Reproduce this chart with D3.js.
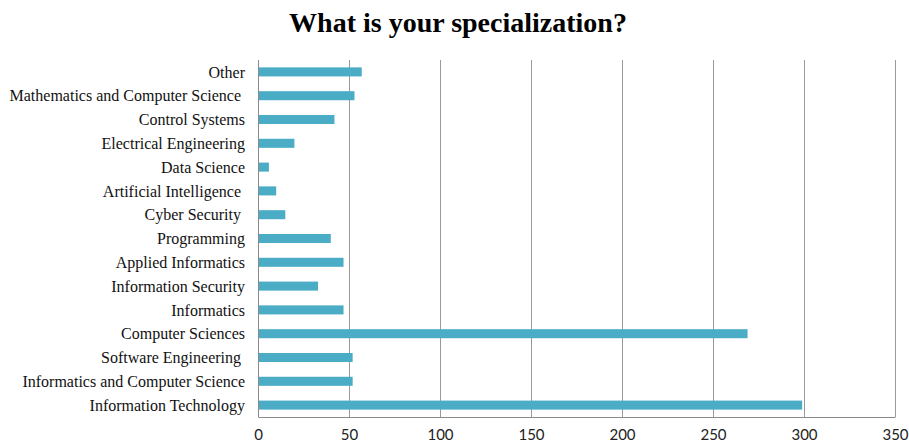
<!DOCTYPE html>
<html>
<head>
<meta charset="utf-8">
<script src="https://cdn.jsdelivr.net/npm/d3@7"></script>
<style>
  body { margin: 0; background: #fff; }
  svg { display: block; }
</style>
</head>
<body>
<svg id="chart"></svg>
<script>
var width = 909,
    height = 445;

// categories top to bottom
var categories = [
  "Other",
  "Mathematics and Computer Science ",
  "Control Systems",
  "Electrical Engineering",
  "Data Science",
  "Artificial Intelligence ",
  "Cyber Security ",
  "Programming",
  "Applied Informatics",
  "Information Security",
  "Informatics",
  "Computer Sciences",
  "Software Engineering ",
  "Informatics and Computer Science",
  "Information Technology"
];
var counts = [57, 53, 42, 20, 6, 10, 15, 40, 47, 33, 47, 269, 52, 52, 299];
var xTicks = [0, 50, 100, 150, 200, 250, 300, 350];

var margin = {top: 60, right: 14, bottom: 28, left: 258};

var svg = d3.select("#chart")
  .attr("width", width)
  .attr("height", height);

svg.append("text")
  .attr("x", 458)
  .attr("y", 32)
  .attr("text-anchor", "middle")
  .style("font-family", "'Liberation Serif', 'Times New Roman', serif")
  .style("font-weight", "bold")
  .style("font-size", "28px")
  .text("What is your specialization?");

var x = d3.scaleLinear()
  .domain([0, 350])
  .range([margin.left, width - margin.right]);

var y = d3.scaleBand()
  .domain(categories)
  .range([margin.top, height - margin.bottom])
  .paddingInner(0.62)
  .paddingOuter(0.31);

var g = svg.append("g");

// vertical gridlines
g.selectAll("line.grid")
  .data(xTicks.slice(1))
  .enter().append("line")
  .attr("class", "grid")
  .attr("x1", function(d) { return x(d) + 0.5; })
  .attr("x2", function(d) { return x(d) + 0.5; })
  .attr("y1", margin.top)
  .attr("y2", height - margin.bottom)
  .attr("stroke", "#9a9a9a")
  .attr("stroke-width", 1);

// bars
g.selectAll("rect.bar")
  .data(counts)
  .enter().append("rect")
  .attr("class", "bar")
  .attr("x", x(0))
  .attr("y", function(d, i) { return y(categories[i]); })
  .attr("width", function(d) { return x(d) - x(0); })
  .attr("height", y.bandwidth())
  .attr("fill", "#4bacc6");

// category labels
g.selectAll("text.cat")
  .data(categories)
  .enter().append("text")
  .attr("class", "cat")
  .attr("x", margin.left - 13)
  .attr("y", function(d) { return y(d) + y.bandwidth() / 2; })
  .attr("dy", "0.35em")
  .attr("text-anchor", "end")
  .style("white-space", "pre")
  .style("font-family", "'Liberation Serif', 'Times New Roman', serif")
  .style("font-size", "16px")
  .style("fill", "#111")
  .text(function(d) { return d; });

// left axis line
g.append("line")
  .attr("x1", x(0) + 0.5).attr("x2", x(0) + 0.5)
  .attr("y1", margin.top).attr("y2", height - margin.bottom)
  .attr("stroke", "#8a8a8a");

// bottom axis
var xAxis = d3.axisBottom(x)
  .tickValues(xTicks)
  .tickSize(0)
  .tickPadding(12);

var axisG = svg.append("g")
  .attr("transform", "translate(0," + (height - margin.bottom) + ")")
  .call(xAxis);

axisG.select(".domain").attr("stroke", "#8a8a8a");
axisG.selectAll("text")
  .style("font-family", "Lato, 'Open Sans', sans-serif")
  .style("font-size", "15px")
  .style("fill", "#222");
</script>
</body>
</html>
